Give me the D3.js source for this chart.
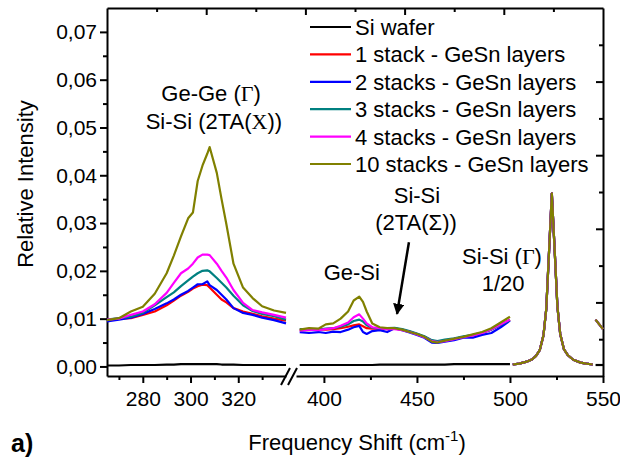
<!DOCTYPE html>
<html>
<head>
<meta charset="utf-8">
<script src="https://cdn.jsdelivr.net/npm/d3@7"></script>
<style>
  body { margin: 0; background: #fff; }
  svg { display: block; }
</style>
</head>
<body>
<div id="chart"></div>
<script>
// series
const seriesNames = ['Si wafer', '1 stack - GeSn layers', '2 stacks - GeSn layers',
    '3 stacks - GeSn layers', '4 stacks - GeSn layers', '10 stacks - GeSn layers']
const seriesColors = ['#000000', '#ff0000', '#0000ff', '#008080', '#ff00ff', '#808000']

// 265-340 cm-1 window
const lowX = [265, 270, 275, 280, 285, 290, 293, 296, 299, 301, 303, 305, 307, 308, 311, 313, 315, 318, 322, 326, 330, 335, 340]
const lowWafer = [0.0002, 0.0002, 0.0003, 0.0003, 0.0003, 0.0004, 0.0004, 0.0005, 0.0005, 0.0005, 0.0005, 0.0005, 0.0005, 0.0005, 0.0005, 0.0004, 0.0004, 0.0004, 0.0003, 0.0003, 0.0003, 0.0003, 0.0003]
const lowStack1 = [0.0096, 0.0100, 0.0101, 0.0108, 0.0115, 0.0128, 0.0138, 0.0148, 0.0156, 0.0163, 0.0168, 0.0171, 0.0170, 0.0165, 0.0150, 0.0140, 0.0134, 0.0122, 0.0115, 0.0110, 0.0105, 0.0100, 0.0096]
const lowStack2 = [0.0094, 0.0098, 0.0102, 0.0110, 0.0120, 0.0132, 0.0140, 0.0150, 0.0158, 0.0165, 0.0172, 0.0172, 0.0178, 0.0170, 0.0160, 0.0150, 0.0140, 0.0122, 0.0112, 0.0108, 0.0102, 0.0097, 0.0090]
const lowStack3 = [0.0098, 0.0101, 0.0104, 0.0112, 0.0128, 0.0145, 0.0155, 0.0168, 0.0180, 0.0188, 0.0195, 0.0200, 0.0201, 0.0199, 0.0185, 0.0175, 0.0165, 0.0148, 0.0128, 0.0116, 0.0110, 0.0105, 0.0098]
const lowStack4 = [0.0098, 0.0100, 0.0108, 0.0115, 0.0130, 0.0154, 0.0175, 0.0195, 0.0205, 0.0215, 0.0228, 0.0234, 0.0234, 0.0233, 0.0215, 0.0200, 0.0186, 0.0160, 0.0133, 0.0118, 0.0113, 0.0108, 0.0102]
const lowStack10 = [0.0097, 0.0101, 0.0115, 0.0125, 0.0152, 0.0195, 0.0232, 0.0272, 0.0310, 0.0322, 0.0388, 0.0420, 0.0445, 0.0459, 0.0405, 0.0350, 0.0298, 0.0215, 0.0165, 0.0143, 0.0126, 0.0117, 0.0112]

// 385-500 cm-1 window
const midX = [387, 392, 397, 401, 405, 409, 413, 416, 419, 421, 423, 426, 430, 434, 438, 442, 446, 450, 454, 458, 461, 465, 470, 475, 480, 485, 490, 495, 500]
const midWafer = [0.0003, 0.0003, 0.0003, 0.0003, 0.0003, 0.0003, 0.0003, 0.0003, 0.0003, 0.0003, 0.0003, 0.0003, 0.0004, 0.0004, 0.0004, 0.0004, 0.0004, 0.0004, 0.0004, 0.0004, 0.0004, 0.0004, 0.0005, 0.0005, 0.0005, 0.0005, 0.0005, 0.0005, 0.0005]
const midStack1 = [0.0076, 0.0076, 0.0078, 0.0077, 0.0078, 0.0080, 0.0083, 0.0086, 0.0088, 0.0084, 0.0080, 0.0079, 0.0079, 0.0078, 0.0079, 0.0077, 0.0073, 0.0068, 0.0062, 0.0054, 0.0052, 0.0054, 0.0058, 0.0062, 0.0065, 0.0070, 0.0077, 0.0087, 0.0098]
const midStack2 = [0.0072, 0.0070, 0.0072, 0.0070, 0.0073, 0.0072, 0.0077, 0.0082, 0.0085, 0.0072, 0.0068, 0.0074, 0.0076, 0.0072, 0.0080, 0.0076, 0.0071, 0.0066, 0.0060, 0.0050, 0.0049, 0.0052, 0.0055, 0.0060, 0.0060, 0.0066, 0.0070, 0.0082, 0.0096]
const midStack3 = [0.0078, 0.0078, 0.0077, 0.0079, 0.0080, 0.0083, 0.0088, 0.0095, 0.0098, 0.0094, 0.0086, 0.0081, 0.0080, 0.0080, 0.0081, 0.0078, 0.0074, 0.0069, 0.0063, 0.0055, 0.0053, 0.0056, 0.0059, 0.0063, 0.0066, 0.0071, 0.0077, 0.0087, 0.0097]
const midStack4 = [0.0075, 0.0077, 0.0076, 0.0078, 0.0080, 0.0085, 0.0092, 0.0103, 0.0109, 0.0100, 0.0090, 0.0082, 0.0080, 0.0078, 0.0078, 0.0076, 0.0072, 0.0067, 0.0061, 0.0053, 0.0051, 0.0053, 0.0057, 0.0061, 0.0065, 0.0070, 0.0078, 0.0088, 0.0098]
const midStack10 = [0.0077, 0.0080, 0.0079, 0.0088, 0.0090, 0.0100, 0.0115, 0.0138, 0.0146, 0.0135, 0.0115, 0.0090, 0.0082, 0.0080, 0.0080, 0.0077, 0.0072, 0.0068, 0.0062, 0.0052, 0.0050, 0.0054, 0.0058, 0.0062, 0.0067, 0.0072, 0.0080, 0.0092, 0.0104]

// Si-Si (Gamma) peak, shown divided by 20 (all samples overlap)
const peakX = [501.5, 505, 509, 512, 514, 516, 518, 519.5, 521, 522.5, 524, 525.5, 527, 529, 531, 534, 538, 541, 544.5]
const peakValues = [0.0004, 0.0006, 0.0010, 0.0015, 0.0022, 0.0034, 0.0065, 0.0120, 0.0240, 0.0362, 0.0245, 0.0125, 0.0068, 0.0036, 0.0024, 0.0014, 0.0008, 0.0006, 0.0004]

// last bit at the right edge
const tailX = [546, 548, 550]
const tailWafer = [0.0003, 0.0003, 0.0003]
const tailGeSn = [0.0098, 0.0088, 0.0078]

const yTicks = [0, 0.01, 0.02, 0.03, 0.04, 0.05, 0.06, 0.07]
const yMinorTicks = [0.005, 0.015, 0.025, 0.035, 0.045, 0.055, 0.065]
const lowTicks = [280, 300, 320]
const lowMinorTicks = [270, 290, 310, 330]
const midTicks = [400, 450, 500, 550]
const midMinorTicks = [425, 475, 525]

const lowSeries = [lowWafer, lowStack1, lowStack2, lowStack3, lowStack4, lowStack10]
const midSeries = [midWafer, midStack1, midStack2, midStack3, midStack4, midStack10]

const font = '"Liberation Sans", Arial, sans-serif'
const serif = '"Liberation Serif", "Times New Roman", serif'
const width = 620, height = 462
const plotLeft = 107, plotRight = 603, plotTop = 8, plotBottom = 376

const svg = d3.select('#chart')
    .append('svg')
        .attr('width', width)
        .attr('height', height)
        .attr('font-family', font)

svg.append('rect').attr('width', width).attr('height', height).attr('fill', '#fff')

// scales: broken x axis
const xLow = d3.scaleLinear().domain([265, 340]).range([plotLeft, 286])
const xMid = d3.scaleLinear().domain([385, 550]).range([296, plotRight])
const y = d3.scaleLinear().domain([-0.002, 0.075]).range([plotBottom, plotTop])
const topScale = d3.scaleLinear().domain([0, 10]).range([plotLeft, plotRight])
const rightScale = d3.scaleLinear().domain([0, 10]).range([plotBottom, plotTop])

const styleAxis = (g, size) => {
    g.attr('font-family', font).attr('font-size', size)
    g.selectAll('path, line').attr('stroke', '#000').attr('stroke-width', 2)
    g.selectAll('text').attr('fill', '#000')
}

const addAxis = (axis, transform, size = 21) => {
    const g = svg.append('g').attr('transform', transform).call(axis)
    styleAxis(g, size)
    return g
}

// left
addAxis(d3.axisLeft(y).tickValues(yTicks).tickSize(7).tickSizeOuter(0).tickPadding(3)
    .tickFormat(d => d3.format('.2f')(d).replace('.', ',')), `translate(${plotLeft},0)`)
addAxis(d3.axisLeft(y).tickValues(yMinorTicks).tickSize(4).tickFormat(''), `translate(${plotLeft},0)`)
    .select('.domain').remove()

// bottom, two pieces
addAxis(d3.axisBottom(xLow).tickValues(lowTicks).tickSize(7).tickSizeOuter(0).tickPadding(8), `translate(0,${plotBottom})`)
addAxis(d3.axisBottom(xLow).tickValues(lowMinorTicks).tickSize(4).tickFormat(''), `translate(0,${plotBottom})`)
    .select('.domain').remove()
addAxis(d3.axisBottom(xMid).tickValues(midTicks).tickSize(7).tickSizeOuter(0).tickPadding(8), `translate(0,${plotBottom})`)
addAxis(d3.axisBottom(xMid).tickValues(midMinorTicks).tickSize(4).tickFormat(''), `translate(0,${plotBottom})`)
    .select('.domain').remove()

// top and right: ticks only, pointing in
addAxis(d3.axisBottom(topScale).tickValues([2, 4, 6, 8]).tickSize(7).tickSizeOuter(0).tickFormat(''), `translate(0,${plotTop})`)
addAxis(d3.axisBottom(topScale).tickValues([1, 3, 5, 7, 9]).tickSize(4).tickFormat(''), `translate(0,${plotTop})`)
    .select('.domain').remove()
addAxis(d3.axisLeft(rightScale).tickValues([2, 4, 6, 8]).tickSize(7).tickSizeOuter(0).tickFormat(''), `translate(${plotRight},0)`)
addAxis(d3.axisLeft(rightScale).tickValues([1, 3, 5, 7, 9]).tickSize(4).tickFormat(''), `translate(${plotRight},0)`)
    .select('.domain').remove()

// break marks
const breakG = svg.append('g').attr('stroke', '#000').attr('stroke-width', 2)
;[281, 288].forEach(bx => {
    breakG.append('line')
        .attr('x1', bx).attr('y1', plotBottom + 9)
        .attr('x2', bx + 9).attr('y2', plotBottom - 8)
})

// lines
const plotSegment = (xScale, xs, ys, color) => {
    const line = d3.line()
        .x((d, i) => xScale(xs[i]))
        .y(d => y(d))
    svg.append('path')
        .attr('d', line(ys))
        .attr('fill', 'none')
        .attr('stroke', color)
        .attr('stroke-width', 2.2)
        .attr('stroke-linejoin', 'round')
}

seriesNames.forEach((name, i) => {
    const color = seriesColors[i]
    plotSegment(xLow, lowX, lowSeries[i], color)
    plotSegment(xMid, midX, midSeries[i], color)
    plotSegment(xMid, peakX, peakValues, color)
    plotSegment(xMid, tailX, i === 0 ? tailWafer : tailGeSn, color)
})

// legend
const legend = svg.append('g').attr('font-size', 22)
seriesNames.forEach((name, i) => {
    const ly = 27 + i * 27.4
    legend.append('line')
        .attr('x1', 310).attr('x2', 351)
        .attr('y1', ly).attr('y2', ly)
        .attr('stroke', seriesColors[i])
        .attr('stroke-width', 2.2)
    legend.append('text')
        .attr('x', 355).attr('y', ly + 8)
        .text(name)
})

// annotations
const note = (x, yv, parts) => {
    const t = svg.append('text')
        .attr('x', x).attr('y', y(yv))
        .attr('text-anchor', 'middle')
        .attr('font-size', 22)
    parts.forEach(([s, f]) => {
        t.append('tspan').text(s).attr('font-family', f || font)
    })
}
note(xLow(308.6), 0.0555, [['Ge-Ge ('], ['\u0393', serif], [')']])
note(xLow(309.8), 0.0497, [['Si-Si (2TA('], ['X', serif], ['))']])
note(xMid(450), 0.0342, [['Si-Si']])
note(xMid(449.5), 0.0285, [['(2TA(\u03A3))']])
note(xMid(415), 0.0181, [['Ge-Si']])
note(xMid(495.7), 0.0214, [['Si-Si ('], ['\u0393', serif], [')']])
note(xMid(496.3), 0.0158, [['1/20']])

// arrow to the 2TA(Sigma) feature
svg.append('defs').append('marker')
    .attr('id', 'head')
    .attr('viewBox', '0 0 10 10')
    .attr('refX', 9).attr('refY', 5)
    .attr('markerWidth', 4.5).attr('markerHeight', 4.5)
    .attr('orient', 'auto')
    .append('path')
        .attr('d', 'M0,0L10,5L0,10Z')
        .attr('fill', '#000')
svg.append('line')
    .attr('x1', xMid(445.7)).attr('y1', y(0.026))
    .attr('x2', xMid(439.3)).attr('y2', y(0.011))
    .attr('stroke', '#000')
    .attr('stroke-width', 2.5)
    .attr('marker-end', 'url(#head)')

// titles
const xTitle = svg.append('text')
    .attr('x', 357).attr('y', 450)
    .attr('text-anchor', 'middle')
    .attr('font-size', 22)
xTitle.append('tspan').text('Frequency Shift (cm')
xTitle.append('tspan').text('-1').attr('font-size', 15).attr('dy', -9)
xTitle.append('tspan').text(')').attr('dy', 9)

svg.append('text')
    .attr('transform', 'translate(33,184) rotate(-90)')
    .attr('text-anchor', 'middle')
    .attr('font-size', 22)
    .text('Relative Intensity')

svg.append('text')
    .attr('x', 11).attr('y', 452)
    .attr('font-size', 25)
    .attr('font-weight', 'bold')
    .text('a)')
</script>
</body>
</html>
